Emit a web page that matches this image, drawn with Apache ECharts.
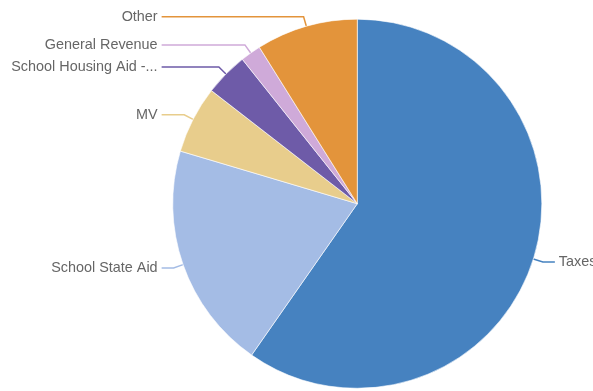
<!DOCTYPE html>
<html>
<head>
<meta charset="utf-8">
<script src="https://cdn.jsdelivr.net/npm/echarts@6/dist/echarts.min.js"></script>
<style>
  html, body { margin: 0; padding: 0; background: #fff; }
  #chart { width: 593px; height: 391px; }
</style>
</head>
<body>
<div id="chart"></div>
<script>
// Revenue sources (share of total, %)
const categories = ['Taxes', 'School State Aid', 'MV', 'School Housing Aid - Debt Service', 'General Revenue', 'Other'];
const shares = [59.7, 19.9, 5.9, 3.8, 1.8, 8.9];
const colors = ['#4682c0', '#a4bce5', '#e8cd8c', '#6e5ba8', '#cfaad9', '#e3943b'];

const chart = echarts.init(document.getElementById('chart'), null, { renderer: 'canvas' });

// Label-line geometry reported by the pie on the first pass; used to line up
// the ends of the connector lines on each side of the pie.
const linePts = {};
const GAP = 4;        // space between a line end and its label
const MARGIN = 10;    // room kept at the chart edge for truncated labels

function sideEnds() {
  let left = Infinity, right = -Infinity;
  Object.keys(linePts).forEach(k => {
    const p = linePts[k];
    if (p[2][0] < p[1][0]) left = Math.min(left, p[2][0]);
    else right = Math.max(right, p[2][0]);
  });
  return { left, right };
}

function labelLayout(params) {
  const pts = params.labelLinePoints;
  if (!pts) return {};
  if (!linePts[params.dataIndex]) {
    linePts[params.dataIndex] = pts.map(p => p.slice());
  }
  if (Object.keys(linePts).length < categories.length) return {};
  const p = linePts[params.dataIndex];
  const ends = sideEnds();
  const isLeft = p[2][0] < p[1][0];
  const endX = isLeft ? ends.left : ends.right;
  const y = p[1][1];
  return {
    x: isLeft ? endX - GAP : endX + GAP,
    y: y,
    align: isLeft ? 'right' : 'left',
    verticalAlign: 'middle',
    width: isLeft ? endX - GAP - MARGIN : 200,
    labelLinePoints: [p[0].slice(), p[1].slice(), [endX, y]]
  };
}

const option = {
  animation: false,
  series: [{
    type: 'pie',
    center: ['60.25%', '52.1%'],
    radius: '94.4%',
    startAngle: 90,
    clockwise: true,
    avoidLabelOverlap: true,
    itemStyle: { borderColor: '#fff', borderWidth: 0.6 },
    label: {
      show: true,
      position: 'outside',
      color: '#666',
      fontFamily: 'Liberation Sans, Arial, sans-serif',
      fontSize: 14.4,
      overflow: 'truncate',
      ellipsis: '...',
      bleedMargin: 0
    },
    labelLine: {
      show: true,
      length: 10,
      length2: 12,
      lineStyle: { width: 1.5 }
    },
    labelLayout: labelLayout,
    emphasis: { disabled: true },
    data: categories.map((name, i) => ({
      name,
      value: shares[i],
      itemStyle: { color: colors[i] }
    }))
  }]
};

chart.setOption(option);
// second pass: every line point is known now, so the labels can be aligned
chart.setOption(option, true);
</script>
</body>
</html>
